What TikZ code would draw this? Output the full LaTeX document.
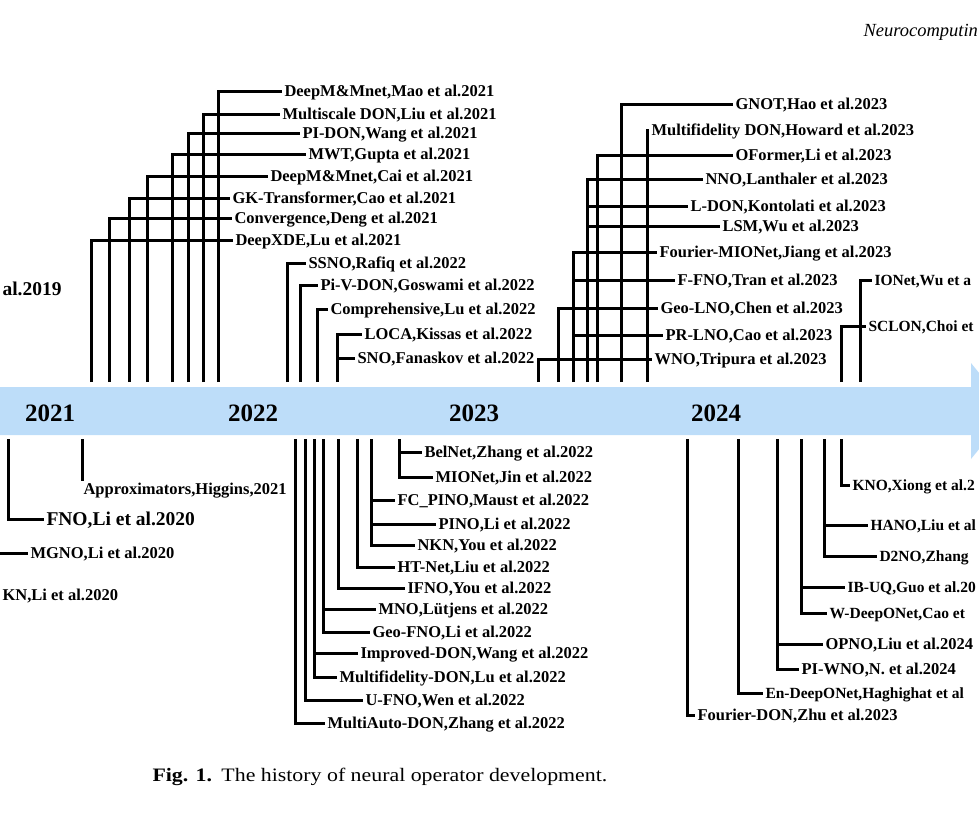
\documentclass[tikz,border=0pt]{standalone}
\usepackage{fontspec}
\setmainfont{Liberation Serif}
\newfontfamily\capfont[FakeStretch=1.15]{Liberation Serif}
\usepackage{tikz}

\definecolor{bandblue}{RGB}{189,221,249}

\begin{document}
\begin{tikzpicture}[x=1pt,y=-1pt,line width=3pt,
    lab node/.style={anchor=west,inner sep=1pt,text height=11pt,text depth=0pt,
      font=\bfseries\fontsize{16.5}{16.5}\selectfont},
    edge node/.style={lab node,font=\bfseries\fontsize{15.5}{15.5}\selectfont},
    big node/.style={lab node,text height=13pt,font=\bfseries\fontsize{19.5}{20}\selectfont},
    year node/.style={inner sep=0pt,font=\bfseries\fontsize{25}{25}\selectfont}]

\useasboundingbox (0,0) rectangle (979,814);
\clip (0,0) rectangle (979,814);

% time band
\fill[bandblue] (0,387) -- (971,387) -- (971,363) -- (1010,411) -- (971,459)
  -- (971,435) -- (0,435) -- cycle;
\node[year node] (y21) at (50,413) {2021};
\node[year node] (y22) at (253,413) {2022};
\node[year node] (y23) at (474,413) {2023};
\node[year node] (y24) at (716,413) {2024};

% feet of the branches on the band
\coordinate (u1) at (91,382);  \coordinate (u2) at (109,382);
\coordinate (u3) at (129,382); \coordinate (u4) at (147,382);
\coordinate (u5) at (172,382); \coordinate (u6) at (188,382);
\coordinate (u7) at (203,382); \coordinate (u8) at (218,382);
\coordinate (v1) at (287,382); \coordinate (v2) at (300,382);
\coordinate (v3) at (317,382); \coordinate (v4) at (337,382);
\coordinate (w1) at (538,382); \coordinate (w2) at (558,382);
\coordinate (w3) at (573,382); \coordinate (w4) at (587,382);
\coordinate (w5) at (597,382); \coordinate (w6) at (621,382);
\coordinate (w7) at (647,382);
\coordinate (x1) at (841,382); \coordinate (x2) at (860,382);

\coordinate (l1) at (8,439);   \coordinate (l2) at (82,439);
\coordinate (m1) at (295,439); \coordinate (m2) at (305,439);
\coordinate (m3) at (314,439); \coordinate (m4) at (323,439);
\coordinate (m5) at (338,439); \coordinate (m6) at (357,439);
\coordinate (m7) at (371,439); \coordinate (m8) at (399,439);
\coordinate (n1) at (687,439); \coordinate (n2) at (738,439);
\coordinate (n3) at (777,439); \coordinate (n4) at (801,439);
\coordinate (n5) at (824,439); \coordinate (n6) at (841,439);
\coordinate (m0) at (-5,553);

% upper labels
\node[big node] (don19) at (0,289) {al.2019};
\node[lab node] (deepxde) at (233,240) {DeepXDE,Lu et al.2021};
\node[lab node] (conv) at (232,218) {Convergence,Deng et al.2021};
\node[lab node] (gkt) at (230,198) {GK-Transformer,Cao et al.2021};
\node[lab node] (mmcai) at (268,176) {DeepM\&Mnet,Cai et al.2021};
\node[lab node] (mwt) at (306,154) {MWT,Gupta et al.2021};
\node[lab node] (pidon) at (300,133) {PI-DON,Wang et al.2021};
\node[lab node] (msdon) at (280,114) {Multiscale DON,Liu et al.2021};
\node[lab node] (mmmao) at (282,91) {DeepM\&Mnet,Mao et al.2021};

\node[lab node] (ssno) at (306,263) {SSNO,Rafiq et al.2022};
\node[lab node] (pivdon) at (318,285) {Pi-V-DON,Goswami et al.2022};
\node[lab node] (compr) at (328,309) {Comprehensive,Lu et al.2022};
\node[lab node] (loca) at (362,334) {LOCA,Kissas et al.2022};
\node[lab node] (sno) at (355,358) {SNO,Fanaskov et al.2022};

\node[lab node] (wno) at (652,359) {WNO,Tripura et al.2023};
\node[lab node] (geolno) at (658,308) {Geo-LNO,Chen et al.2023};
\node[lab node] (fmionet) at (657,252) {Fourier-MIONet,Jiang et al.2023};
\node[lab node] (ffno) at (675,280) {F-FNO,Tran et al.2023};
\node[lab node] (prlno) at (663,335) {PR-LNO,Cao et al.2023};
\node[lab node] (nno) at (703,179) {NNO,Lanthaler et al.2023};
\node[lab node] (ldon) at (688,206) {L-DON,Kontolati et al.2023};
\node[lab node] (lsm) at (720,226) {LSM,Wu et al.2023};
\node[lab node] (oformer) at (733,155) {OFormer,Li et al.2023};
\node[lab node] (gnot) at (733,104) {GNOT,Hao et al.2023};
\node[lab node] (mfdon) at (649,130) {Multifidelity DON,Howard et al.2023};

\node[edge node] (sclon) at (866,326) {SCLON,Choi et};
\node[edge node] (ionet) at (872,280) {IONet,Wu et a};

% lower labels
\node[big node] (fno) at (44,519) {FNO,Li et al.2020};
\node[lab node,anchor=north west] (approx) at (81,481) {Approximators,Higgins,2021};
\node[lab node] (mgno) at (28,553) {MGNO,Li et al.2020};
\node[lab node] (gkn) at (0,595) {KN,Li et al.2020};

\node[lab node] (madon) at (325,723) {MultiAuto-DON,Zhang et al.2022};
\node[lab node] (ufno) at (363,700) {U-FNO,Wen et al.2022};
\node[lab node] (impdon) at (358,653) {Improved-DON,Wang et al.2022};
\node[lab node] (mfdon2) at (337,677) {Multifidelity-DON,Lu et al.2022};
\node[lab node] (mno) at (376,609) {MNO,Lütjens et al.2022};
\node[lab node] (geofno) at (370,632) {Geo-FNO,Li et al.2022};
\node[lab node] (ifno) at (405,588) {IFNO,You et al.2022};
\node[lab node] (htnet) at (395,567) {HT-Net,Liu et al.2022};
\node[lab node] (fcpino) at (395,500) {FC\_PINO,Maust et al.2022};
\node[lab node] (pino) at (436,524) {PINO,Li et al.2022};
\node[lab node] (nkn) at (415,545) {NKN,You et al.2022};
\node[lab node] (belnet) at (422,452) {BelNet,Zhang et al.2022};
\node[lab node] (mionet) at (433,477) {MIONet,Jin et al.2022};

\node[lab node] (fdon) at (695,715) {Fourier-DON,Zhu et al.2023};
\node[edge node] (endon) at (763,693) {En-DeepONet,Haghighat et al};
\node[lab node] (opno) at (823,644) {OPNO,Liu et al.2024};
\node[lab node] (piwno) at (799,669) {PI-WNO,N. et al.2024};
\node[edge node] (ibuq) at (845,587) {IB-UQ,Guo et al.20};
\node[edge node] (wdon) at (827,613) {W-DeepONet,Cao et};
\node[edge node] (hano) at (868,525) {HANO,Liu et al};
\node[edge node] (dtno) at (877,556) {D2NO,Zhang};
\node[edge node] (kno) at (850,485) {KNO,Xiong et al.2};

% branches
\draw (u1) |- (deepxde.west) (u2) |- (conv.west) (u3) |- (gkt.west)
  (u4) |- (mmcai.west) (u5) |- (mwt.west) (u6) |- (pidon.west)
  (u7) |- (msdon.west) (u8) |- (mmmao.west);
\draw (v1) |- (ssno.west) (v2) |- (pivdon.west) (v3) |- (compr.west)
  (v4) |- (loca.west) (v4) |- (sno.west);
\draw (w1) |- (wno.west) (w2) |- (geolno.west)
  (w3) |- (fmionet.west) (w3) |- (ffno.west) (w3) |- (prlno.west)
  (w4) |- (nno.west) (w4) |- (ldon.west) (w4) |- (lsm.west)
  (w5) |- (oformer.west) (w6) |- (gnot.west) (w7) |- (mfdon.west);
\draw (x1) |- (sclon.west) (x2) |- (ionet.west);

\draw (l1) |- (fno.west) (l2) -- (l2 |- approx.north) (m0) -- (mgno.west);
\draw (m1) |- (madon.west) (m2) |- (ufno.west)
  (m3) |- (impdon.west) (m3) |- (mfdon2.west)
  (m4) |- (mno.west) (m4) |- (geofno.west) (m5) |- (ifno.west)
  (m6) |- (htnet.west)
  (m7) |- (fcpino.west) (m7) |- (pino.west) (m7) |- (nkn.west)
  (m8) |- (belnet.west) (m8) |- (mionet.west);
\draw (n1) |- (fdon.west) (n2) |- (endon.west)
  (n3) |- (opno.west) (n3) |- (piwno.west)
  (n4) |- (ibuq.west) (n4) |- (wdon.west)
  (n5) |- (hano.west) (n5) |- (dtno.west) (n6) |- (kno.west);

% header and caption
\node[anchor=west,inner sep=0pt,font=\itshape\fontsize{18.5}{19}\selectfont] (journal) at (862,32) {Neurocomputin};
\node[anchor=west,inner sep=0pt,font=\capfont\fontsize{19}{19}\selectfont] (caption) at (151,777)
  {\textbf{Fig. 1.}\enspace The history of neural operator development.};
\end{tikzpicture}
\end{document}
